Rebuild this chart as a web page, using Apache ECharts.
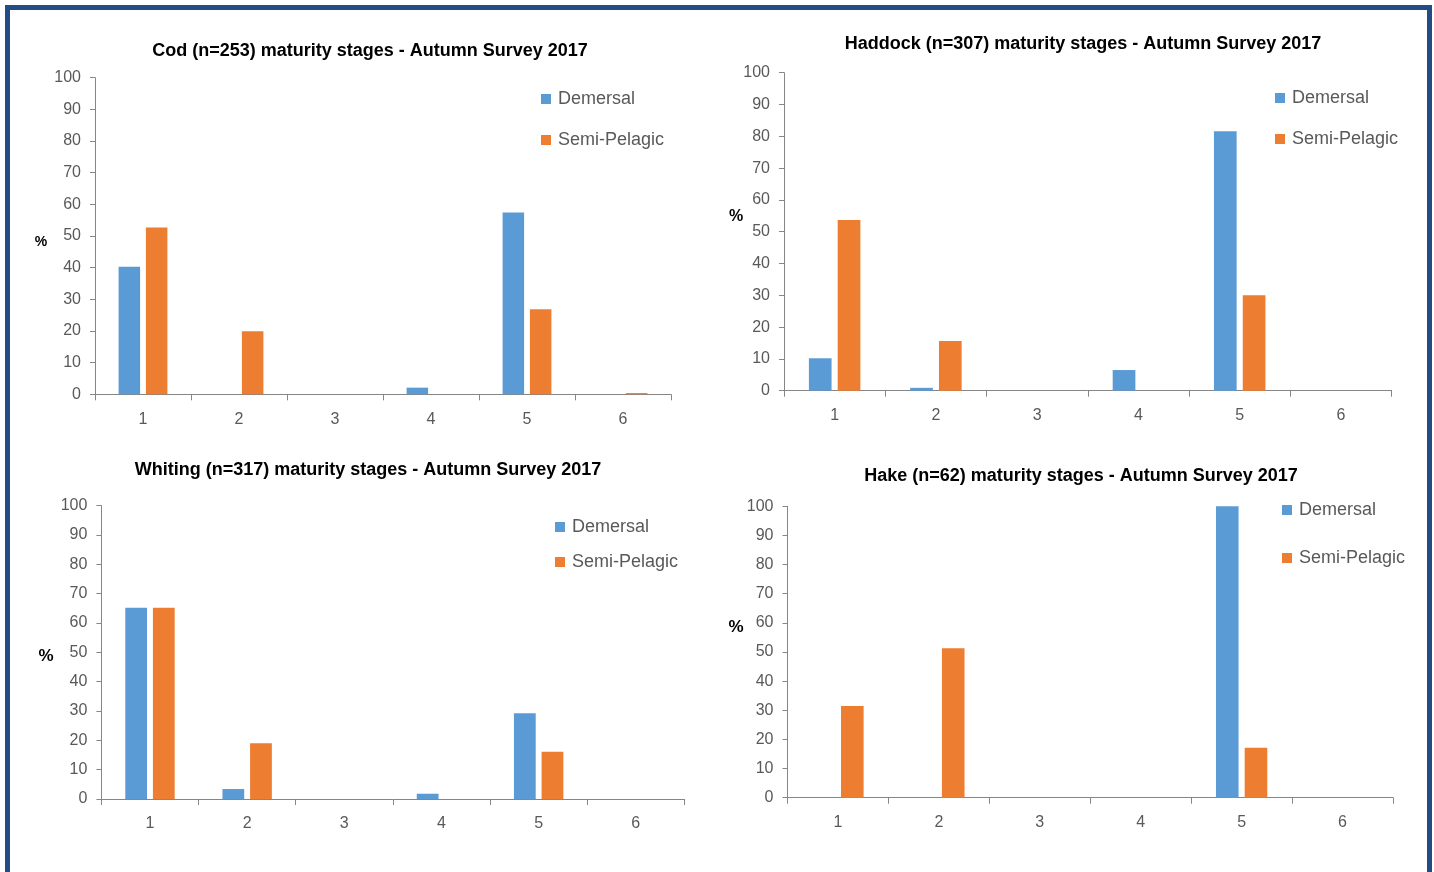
<!DOCTYPE html>
<html>
<head>
<meta charset="utf-8">
<script src="https://cdn.jsdelivr.net/npm/echarts@6/dist/echarts.min.js"></script>
<style>
html,body{margin:0;padding:0;background:#fff;}
#chart{width:1434px;height:872px;}
</style>
</head>
<body>
<div id="chart"></div>
<script>
// ---- data ----
const categories = ['1', '2', '3', '4', '5', '6'];
const seriesNames = ['Demersal', 'Semi-Pelagic'];
const yTicks = [0, 10, 20, 30, 40, 50, 60, 70, 80, 90, 100];

const titles = [
  'Cod (n=253) maturity stages - Autumn Survey 2017',
  'Haddock (n=307) maturity stages - Autumn Survey 2017',
  'Whiting (n=317) maturity stages - Autumn Survey 2017',
  'Hake (n=62) maturity stages - Autumn Survey 2017'
];

const codDemersal      = [40.3, 0, 0, 2.1, 57.4, 0];
const codSemiPelagic   = [52.7, 19.9, 0, 0, 26.9, 0.4];
const haddockDemersal  = [10.2, 0.9, 0, 6.5, 81.6, 0];
const haddockSemiPelagic = [53.7, 15.6, 0, 0, 30.0, 0];
const whitingDemersal  = [65.2, 3.4, 0, 1.8, 29.2, 0];
const whitingSemiPelagic = [65.2, 19.0, 0, 0, 16.1, 0];
const hakeDemersal     = [0, 0, 0, 0, 100, 0];
const hakeSemiPelagic  = [31.5, 51.3, 0, 0, 17.1, 0];

const panelData = [
  [codDemersal, codSemiPelagic],
  [haddockDemersal, haddockSemiPelagic],
  [whitingDemersal, whitingSemiPelagic],
  [hakeDemersal, hakeSemiPelagic]
];

// ---- layout / style ----
const FONT_REG = '"Liberation Sans", Arial, sans-serif';
const colors = ['#5B9BD5', '#ED7D31'];
const textGray = '#595959';
const axisGray = '#868686';

const grids = [
  {left: 95, top: 77.7, width: 576, height: 316.6},
  {left: 784, top: 72.7, width: 607.6, height: 318},
  {left: 101.4, top: 505.7, width: 583, height: 293.3},
  {left: 787.5, top: 506.3, width: 605.5, height: 291.4}
];
const titlePos = [
  {x: 365, y: 37},
  {x: 1078, y: 30},
  {x: 363, y: 456},
  {x: 1076, y: 462}
];
const legendPos = [
  {left: 536, top: 85, gap: 23},
  {left: 1270, top: 84, gap: 23},
  {left: 550, top: 513, gap: 17},
  {left: 1277, top: 496, gap: 30}
];
const pctPos = [
  {x: 41, y: 242, s: 14},
  {x: 736, y: 217, s: 16},
  {x: 46, y: 656, s: 17},
  {x: 736, y: 627, s: 17}
];

const option = {
  animation: false,
  backgroundColor: '#ffffff',
  title: titles.map((t, i) => ({
    text: t,
    left: titlePos[i].x,
    top: titlePos[i].y,
    textAlign: 'center',
    textStyle: {fontFamily: FONT_REG, fontWeight: 'bold', fontSize: 18, color: '#000'}
  })),
  legend: legendPos.map(p => ({
    data: seriesNames,
    orient: 'vertical',
    left: p.left,
    top: p.top,
    itemWidth: 10,
    itemHeight: 10,
    itemGap: p.gap,
    icon: 'rect',
    textStyle: {fontFamily: FONT_REG, fontSize: 18, color: textGray, padding: [0, 0, 0, 2]}
  })),
  grid: grids.map(g => Object.assign({containLabel: false}, g)),
  xAxis: grids.map((g, i) => ({
    type: 'category',
    gridIndex: i,
    data: categories,
    axisLine: {lineStyle: {color: axisGray, width: 1}},
    axisTick: {show: true, length: 6, lineStyle: {color: axisGray}},
    axisLabel: {fontFamily: FONT_REG, fontSize: 16, color: textGray, margin: 17}
  })),
  yAxis: grids.map((g, i) => ({
    type: 'value',
    gridIndex: i,
    min: yTicks[0],
    max: yTicks[yTicks.length - 1],
    interval: yTicks[1] - yTicks[0],
    axisLine: {show: true, lineStyle: {color: axisGray, width: 1}},
    axisTick: {show: true, length: 5, lineStyle: {color: axisGray}},
    splitLine: {show: false},
    axisLabel: {fontFamily: FONT_REG, fontSize: 16, color: textGray, margin: 14}
  })),
  series: [],
  graphic: [
    {
      type: 'rect',
      shape: {x: 7.5, y: 7.5, width: 1422, height: 900},
      style: {fill: 'none', stroke: '#244c84', lineWidth: 5},
      silent: true
    }
  ].concat(pctPos.map(p => ({
    type: 'text',
    x: p.x,
    y: p.y,
    style: {text: '%', fontFamily: FONT_REG, fontWeight: 'bold', fontSize: p.s, fill: '#000', align: 'center', verticalAlign: 'middle'}
  })))
};

panelData.forEach((pair, i) => {
  pair.forEach((vals, k) => {
    option.series.push({
      type: 'bar',
      name: seriesNames[k],
      xAxisIndex: i,
      yAxisIndex: i,
      data: vals,
      barWidth: '22.4%',
      barGap: '27%',
      itemStyle: {color: colors[k]}
    });
  });
});

const chart = echarts.init(document.getElementById('chart'), null, {renderer: 'canvas'});
chart.setOption(option);
</script>
</body>
</html>
